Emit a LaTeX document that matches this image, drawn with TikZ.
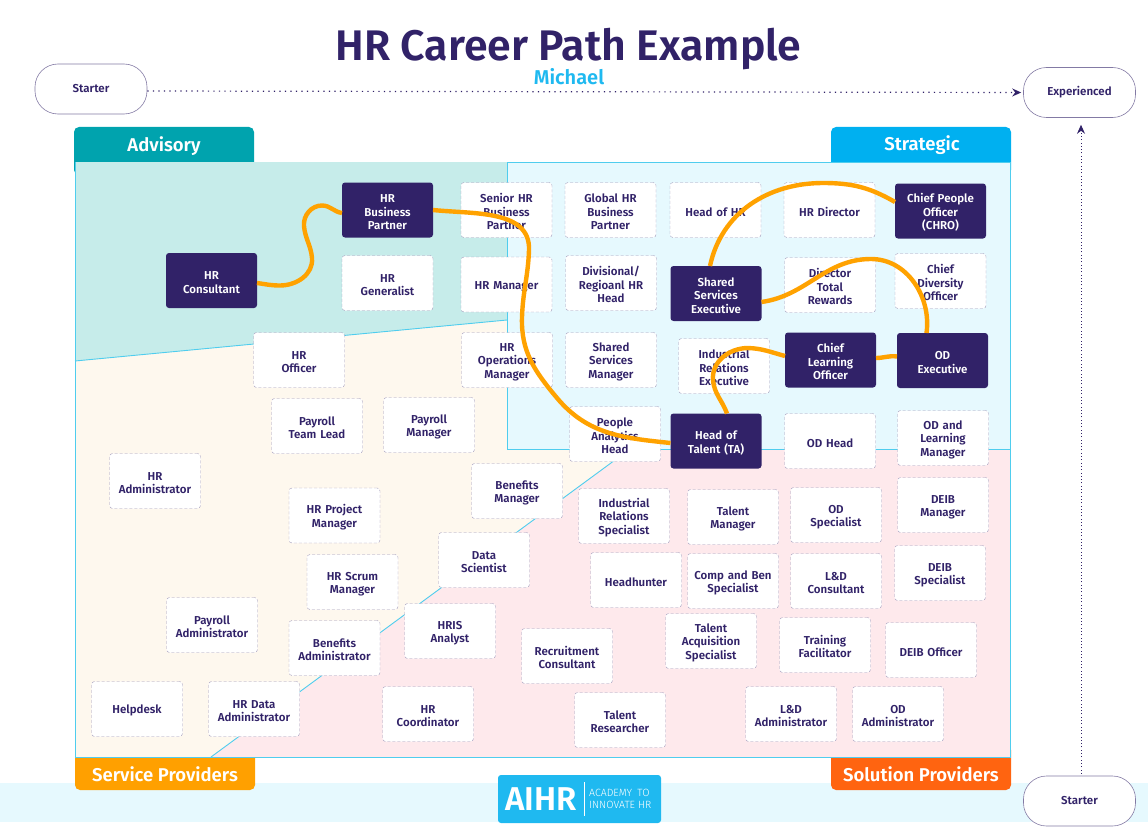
\documentclass[tikz,border=0pt]{standalone}
\usepackage{fontspec}
\setmainfont{Fira Sans}[BoldFont={Fira Sans SemiBold}]
\newfontfamily\lightfont{Fira Sans Light}
\usetikzlibrary{positioning,arrows.meta}
\definecolor{navy}{HTML}{312268}
\definecolor{skyline}{HTML}{4FCDEE}
\definecolor{pathorange}{HTML}{FFA200}
\definecolor{advisorytab}{HTML}{00A3AE}
\definecolor{strategictab}{HTML}{00B0F0}
\definecolor{servicetab}{HTML}{FFA000}
\definecolor{solutiontab}{HTML}{FF6410}
\definecolor{advisoryzone}{HTML}{C6ECEA}
\definecolor{strategiczone}{HTML}{E6F9FE}
\definecolor{servicezone}{HTML}{FEF8EE}
\definecolor{solutionzone}{HTML}{FEE9EC}
\definecolor{logoblue}{HTML}{1FB9F0}
\tikzset{
  rolebox/.style={rectangle,rounded corners=3pt,minimum width=91pt,minimum height=55pt,
    inner sep=0pt,outer sep=0pt,text width=89pt,align=center,text=navy,
    font=\bfseries\fontsize{11.5}{13.4}\selectfont,
    execute at begin node={\rule{0pt}{12.4pt}}},
  open/.style={rolebox,fill=white,draw=navy!45,densely dashed,line width=.4pt},
  held/.style={rolebox,fill=navy,text=white},
  tab/.style={text=white,inner sep=0pt,font=\bfseries\fontsize{18.5}{20}\selectfont},
  level/.style={rectangle,rounded corners=23pt,draw=navy!60,line width=.6pt,fill=white,
    minimum width=112pt,minimum height=50pt,inner sep=0pt,text=navy,
    font=\bfseries\fontsize{11.5}{13}\selectfont},
  career/.style={pathorange,line width=4.4pt},
  scale line/.style={navy,-{Stealth[length=9pt,width=8pt,inset=3pt]}},
  border/.style={skyline,line width=.9pt}
}
\begin{document}
\begin{tikzpicture}[x=1pt,y=-1pt,node distance=119pt,on grid]
  \useasboundingbox (0,0) rectangle (1148,840);
  % footer band
  \fill[strategiczone] (0,783) rectangle (1148,822);
  % tabs behind the zones
  \fill[advisorytab,rounded corners=5pt] (74,127) rectangle (254,175);
  \fill[strategictab,rounded corners=5pt] (831,127) rectangle (1011,175);
  \fill[servicetab,rounded corners=5pt] (75,745) rectangle (255,790);
  \fill[solutiontab,rounded corners=5pt] (831,745) rectangle (1011,790);
  % quadrants
  \fill[servicezone] (75,162) rectangle (1010,757);
  \fill[strategiczone] (507,162) rectangle (1010,449);
  \fill[solutionzone] (211,757) -- (630,449) -- (1010,449) -- (1010,757) -- cycle;
  \fill[advisoryzone] (75,162) -- (507,162) -- (507,320) -- (75,361) -- cycle;
  \draw[border] (507,449) -- (507,162) -- (1010,162) -- (1010,757) -- (75,757) -- (75,162);
  \draw[border] (507,449) -- (1010,449);
  \draw[border] (75,361) -- (507,320);
  \draw[border] (211,757) -- (630,449);
  \node[tab] (advisory) at (164,146) {Advisory};
  \node[tab] (strategic) at (922,145) {Strategic};
  \node[tab] (service) at (165,774) {Service Providers};
  \node[tab] (solution) at (921,774) {Solution Providers};

  % title
  \node[text=navy,font=\bfseries\fontsize{42.8}{46}\selectfont] (title) at (568.5,49) {HR Career Path Example};
  \node[text=logoblue,font=\bfseries\fontsize{20}{22}\selectfont] (name) at (569,77) {Michael};

  % axes
  \node[level] (startx) at (91,89) {Starter};
  \node[level] (experienced) at (1079.5,92.5) {Experienced};
  \node[level] (starty) at (1079.5,801) {Starter};
  \draw[scale line,line width=1.2pt,dash pattern=on 1.2pt off 4.3pt] ([yshift=-2pt]startx.east) -- ([xshift=-2pt]experienced.west);
  \draw[scale line,line width=.9pt,dash pattern=on .9pt off 2.4pt] ([xshift=1.5pt,yshift=2pt]starty.north) -- ([xshift=1.5pt,yshift=-7pt]experienced.south);

  % first row
  \node[held] (hrbp) at (387.5,210) {HR\\Business\\Partner};
  \node[open] (seniorbp) [right = of hrbp] {Senior HR\\Business\\Partner};
  \node[open] (globalbp) [right = 104pt of seniorbp] {Global HR\\Business\\Partner};
  \node[open] (headhr) [right = 105pt of globalbp] {Head of HR};
  \node[open] (hrdirector) [right = 114pt of headhr] {HR Director};
  \node[held] (chro) at (940.5,211) {Chief People\\Officer\\(CHRO)};
  % second row
  \node[held] (consultant) at (211.5,280.5) {HR\\Consultant};
  \node[open] (generalist) at (387.5,283) {HR\\Generalist};
  \node[open] (hrmanager) [right = of generalist,yshift=-1.5pt] {HR Manager};
  \node[open] (divisional) at (611,283) {Divisional/\\Regioanl HR\\Head};
  \node[held] (sharedexec) at (716,293.5) {Shared\\Services\\Executive};
  \node[open] (rewards) at (830,285) {Director\\Total\\Rewards};
  \node[open] (diversity) at (940.5,281) {Chief\\Diversity\\Officer};
  % third row
  \node[open] (officer) at (299,360) {HR\\Officer};
  \node[open] (operations) at (507,360) {HR\\Operations\\Manager};
  \node[open] (sharedmgr) [right = 104pt of operations] {Shared\\Services\\Manager};
  \node[open] (irexec) at (724,366) {Industrial\\Relations\\Executive};
  \node[held] (clo) at (830.5,360) {Chief\\Learning\\Officer};
  \node[held] (odexec) at (942.5,360.5) {OD\\Executive};
  % fourth row
  \node[open] (teamlead) at (317,426) {Payroll\\Team Lead};
  \node[open] (payrollmgr) at (429,425) {Payroll\\Manager};
  \node[open] (analytics) at (615,434) {People\\Analytics\\Head};
  \node[held] (talenthead) at (716,441) {Head of\\Talent (TA)};
  \node[open] (odhead) [right = 114pt of talenthead] {OD Head};
  \node[open] (odlearning) at (943,438) {OD and\\Learning\\Manager};
  % fifth row
  \node[open] (administrator) at (155,481) {HR\\Administrator};
  \node[open] (benefitsmgr) at (517,491) {Benefits\\Manager};
  \node[open] (irspec) at (624,516) {Industrial\\Relations\\Specialist};
  \node[open] (talentmgr) at (733,517) {Talent\\Manager};
  \node[open] (odspec) at (836,515) {OD\\Specialist};
  \node[open] (deibmgr) at (943,505) {DEIB\\Manager};
  \node[open] (project) at (334.5,515.5) {HR Project\\Manager};
  % sixth row
  \node[open] (scientist) at (484,560) {Data\\Scientist};
  \node[open] (headhunter) at (636,580) {Headhunter};
  \node[open] (compben) [right = 97pt of headhunter,yshift=-1pt] {Comp and Ben\\Specialist};
  \node[open] (ldconsult) [right = 103pt of compben] {L\&D\\Consultant};
  \node[open] (deibspec) at (940,573) {DEIB\\Specialist};
  \node[open] (scrum) at (352.5,582) {HR Scrum\\Manager};
  % seventh row
  \node[open] (hris) at (450,631) {HRIS\\Analyst};
  \node[open] (payrolladm) at (212,625) {Payroll\\Administrator};
  \node[open] (benefitsadm) at (334.5,648) {Benefits\\Administrator};
  \node[open] (recruitment) at (567,656) {Recruitment\\Consultant};
  \node[open] (acquisition) at (711,641) {Talent\\Acquisition\\Specialist};
  \node[open] (training) at (825,645) {Training\\Facilitator};
  \node[open] (deibofficer) at (931,650) {DEIB Officer};
  % last row
  \node[open] (helpdesk) at (137,709) {Helpdesk};
  \node[open] (dataadm) [right = 117pt of helpdesk] {HR Data\\Administrator};
  \node[open] (coordinator) at (428,714) {HR\\Coordinator};
  \node[open] (researcher) at (620,720) {Talent\\Researcher};
  \node[open] (ldadm) at (791,714) {L\&D\\Administrator};
  \node[open] (odadm) [right = 107pt of ldadm] {OD\\Administrator};

  % the path
  \draw[career] ([yshift=-2.5pt]consultant.east) to[out=-8,in=180] (280,285.5) to[out=0,in=-85] (312,258)
    to[out=95,in=-85] (304,226) to[out=95,in=180] (322,205.5) to[out=0,in=172] ([yshift=-3pt]hrbp.west);
  \draw[career] (hrbp.east) to[out=-6,in=88] (529,250) to[out=-92,in=88] (522,317)
    to[out=-92,in=130] (557,398) to[out=-50,in=174] ([yshift=-2pt]talenthead.west);
  \draw[career] ([xshift=11pt]talenthead.north) to[out=110,in=-85] (713,380) to[out=95,in=180] (748,348)
    to[out=-2,in=165] ([yshift=4pt]clo.west);
  \draw[career] ([yshift=2pt]clo.east) to[out=0,in=172] ([yshift=4pt]odexec.west);
  \draw[career] ([xshift=-16pt]odexec.north) to[out=82,in=0] (871,259) to[out=180,in=8] ([yshift=-8.5pt]sharedexec.east);
  \draw[career] ([xshift=-6pt]sharedexec.north) to[out=78,in=180] (823,183) to[out=0,in=150] ([yshift=9pt]chro.west);

  % logo
  \node[rectangle,fill=logoblue,rounded corners=3pt,minimum width=163pt,minimum height=48pt,inner sep=0pt] (logo) at (579.5,799) {};
  \node[text=white,font=\bfseries\fontsize{33}{34}\selectfont] (aihr) at (541,799) {AIHR};
  \draw[white,line width=.6pt] (584,782) -- (584,816);
  \node[text=white,align=left,anchor=west,inner sep=0pt,font=\lightfont\fontsize{10.5}{11.5}\selectfont] (tagline) at (589,799) {ACADEMY\,\,\,TO\\INNOVATE HR};
\end{tikzpicture}
\end{document}
